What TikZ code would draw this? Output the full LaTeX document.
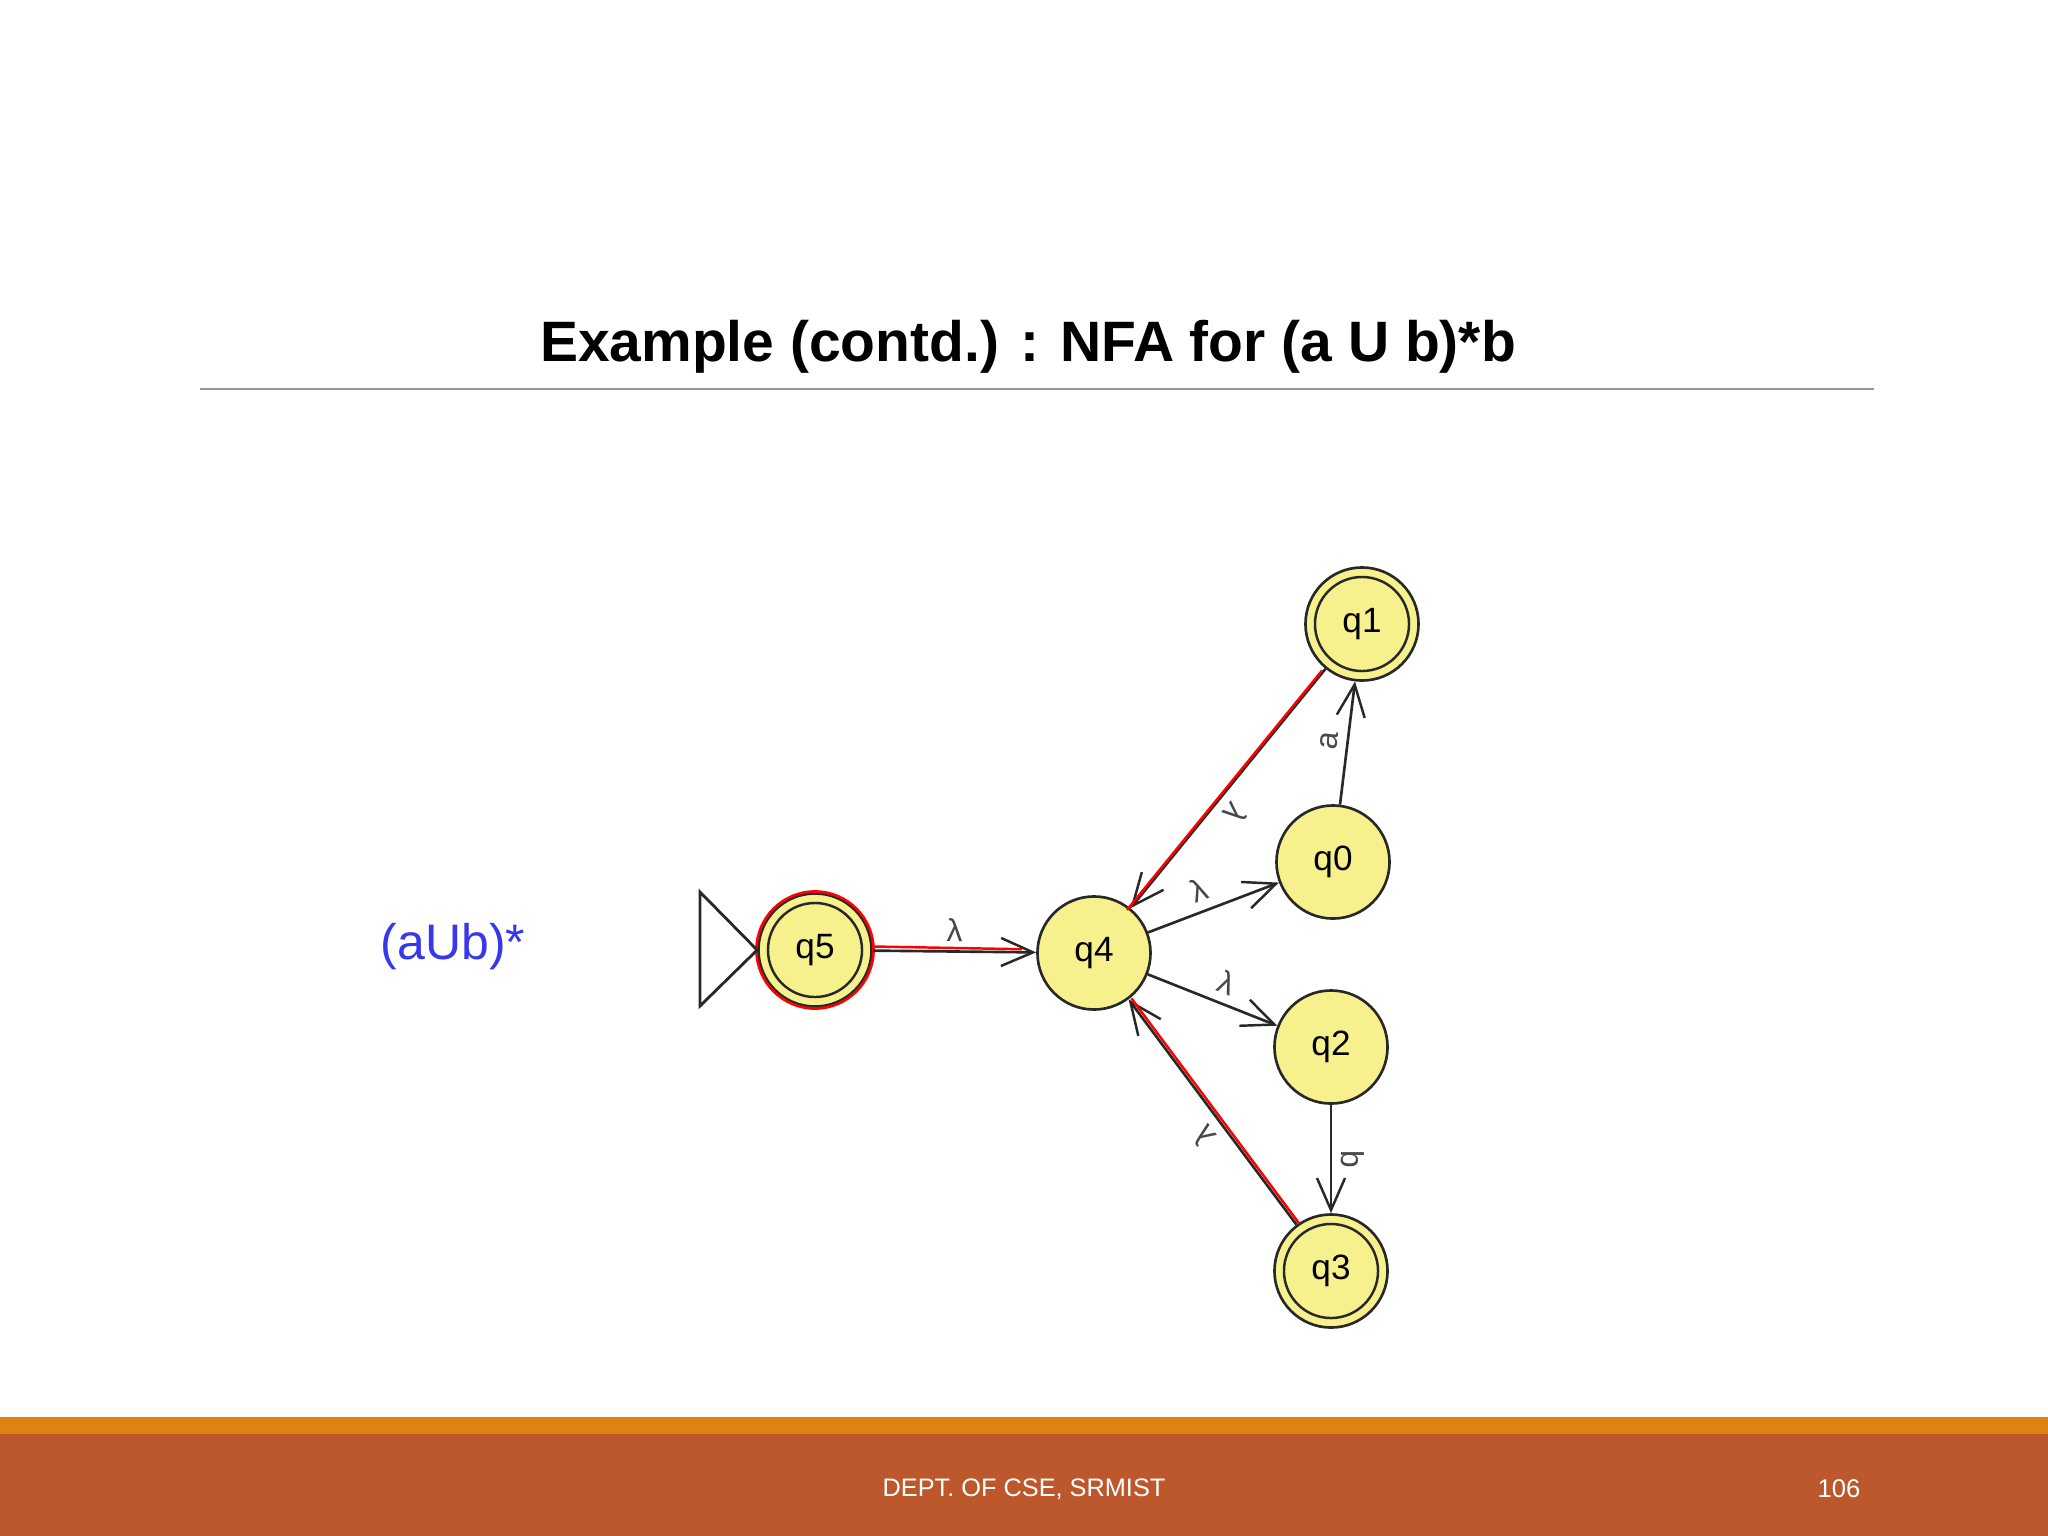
\documentclass[tikz,border=0pt]{standalone}
\usepackage{fontspec}
\setmainfont{Liberation Sans}
\usetikzlibrary{arrows.meta}
\definecolor{stfill}{RGB}{246,241,140}
\definecolor{bandorange}{RGB}{224,130,18}
\definecolor{bandbrown}{RGB}{189,88,44}
\definecolor{rulegray}{RGB}{150,150,150}
\definecolor{bluetext}{RGB}{55,55,235}
\definecolor{edgeblack}{RGB}{40,40,40}
\tikzset{
  state/.style={circle, draw=edgeblack, line width=0.75pt, fill=stfill, minimum size=1.13cm, inner sep=0pt, font=\fontsize{10}{11}\selectfont},
  innerring/.style={draw=edgeblack, line width=0.7pt},
  edge/.style={draw=edgeblack, line width=0.75pt, -{Straight Barb[length=0.32cm, width=0.28cm, line width=0.7pt]}},
  redline/.style={draw=red, line width=0.7pt},
  elabel/.style={font=\fontsize{9}{10}\selectfont, text=edgeblack!85, inner sep=2.5pt, sloped, allow upside down}
}
\begin{document}
\begin{tikzpicture}[x=0.01cm, y=-0.01cm]
\useasboundingbox (0,0) rectangle (2048,1536);
\fill[white] (0,0) rectangle (2048,1536);
% title
\node[font=\bfseries\fontsize{16.2}{19}\selectfont] (title) at (1028,347) {Example (contd.) : NFA for (a U b)*b};
\draw[rulegray, line width=0.6pt] (200,389) -- (1874,389);
% footer
\fill[bandorange] (0,1417) rectangle (2048,1434);
\fill[bandbrown] (0,1434) rectangle (2048,1536);
\node[text=white, font=\fontsize{7.2}{9}\selectfont] (foot) at (1024,1489) {DEPT. OF CSE, SRMIST};
\node[text=white, font=\fontsize{7.3}{9}\selectfont] (page) at (1839,1489) {106};
% side label
\node[text=bluetext, font=\fontsize{14.2}{17}\selectfont] (re) at (453,947) {(aUb)*};
% states
\node[state] (q5) at (815,950) {q5};
\node[state] (q4) at (1094,953) {q4};
\node[state] (q0) at (1333,862) {q0};
\node[state] (q1) at (1362,624) {q1};
\node[state] (q2) at (1331,1047) {q2};
\node[state] (q3) at (1331,1271) {q3};
\draw[innerring] (q5) circle (0.47cm);
\draw[innerring] (q1) circle (0.47cm);
\draw[innerring] (q3) circle (0.47cm);
\draw[red, line width=0.75pt] (q5) circle (0.585cm);
% initial triangle
\coordinate (ia) at (700,892);
\coordinate (ib) at (700,1006);
\draw[edgeblack, line width=0.8pt] (ia) -- (q5.west) -- (ib) -- cycle;
% edges
\draw[edge] (q5) -- node[elabel, above] {λ} (q4);
\draw[redline, shorten >=0.14cm] ([yshift=1pt]q5.east) -- ([yshift=1pt]q4.west);
\draw[edge] (q4) -- node[elabel, above, pos=0.45] {λ} (q0);
\draw[edge] (q1) -- node[elabel, above, pos=0.55] {λ} (q4);
\draw[redline, transform canvas={xshift=-1pt, yshift=-0.5pt}] (q1) -- (q4);
\draw[edge] (q0) -- node[elabel, above] {a} (q1);
\draw[edge] (q4) -- node[elabel, above, pos=0.55] {λ} (q2);
\draw[edge] (q2) -- node[elabel, above] {b} (q3);
\draw[edge] (q3) -- node[elabel, above, pos=0.45] {λ} (q4);
\draw[redline, transform canvas={xshift=0.8pt, yshift=0.3pt}] (q3) -- (q4);
\end{tikzpicture}
\end{document}
